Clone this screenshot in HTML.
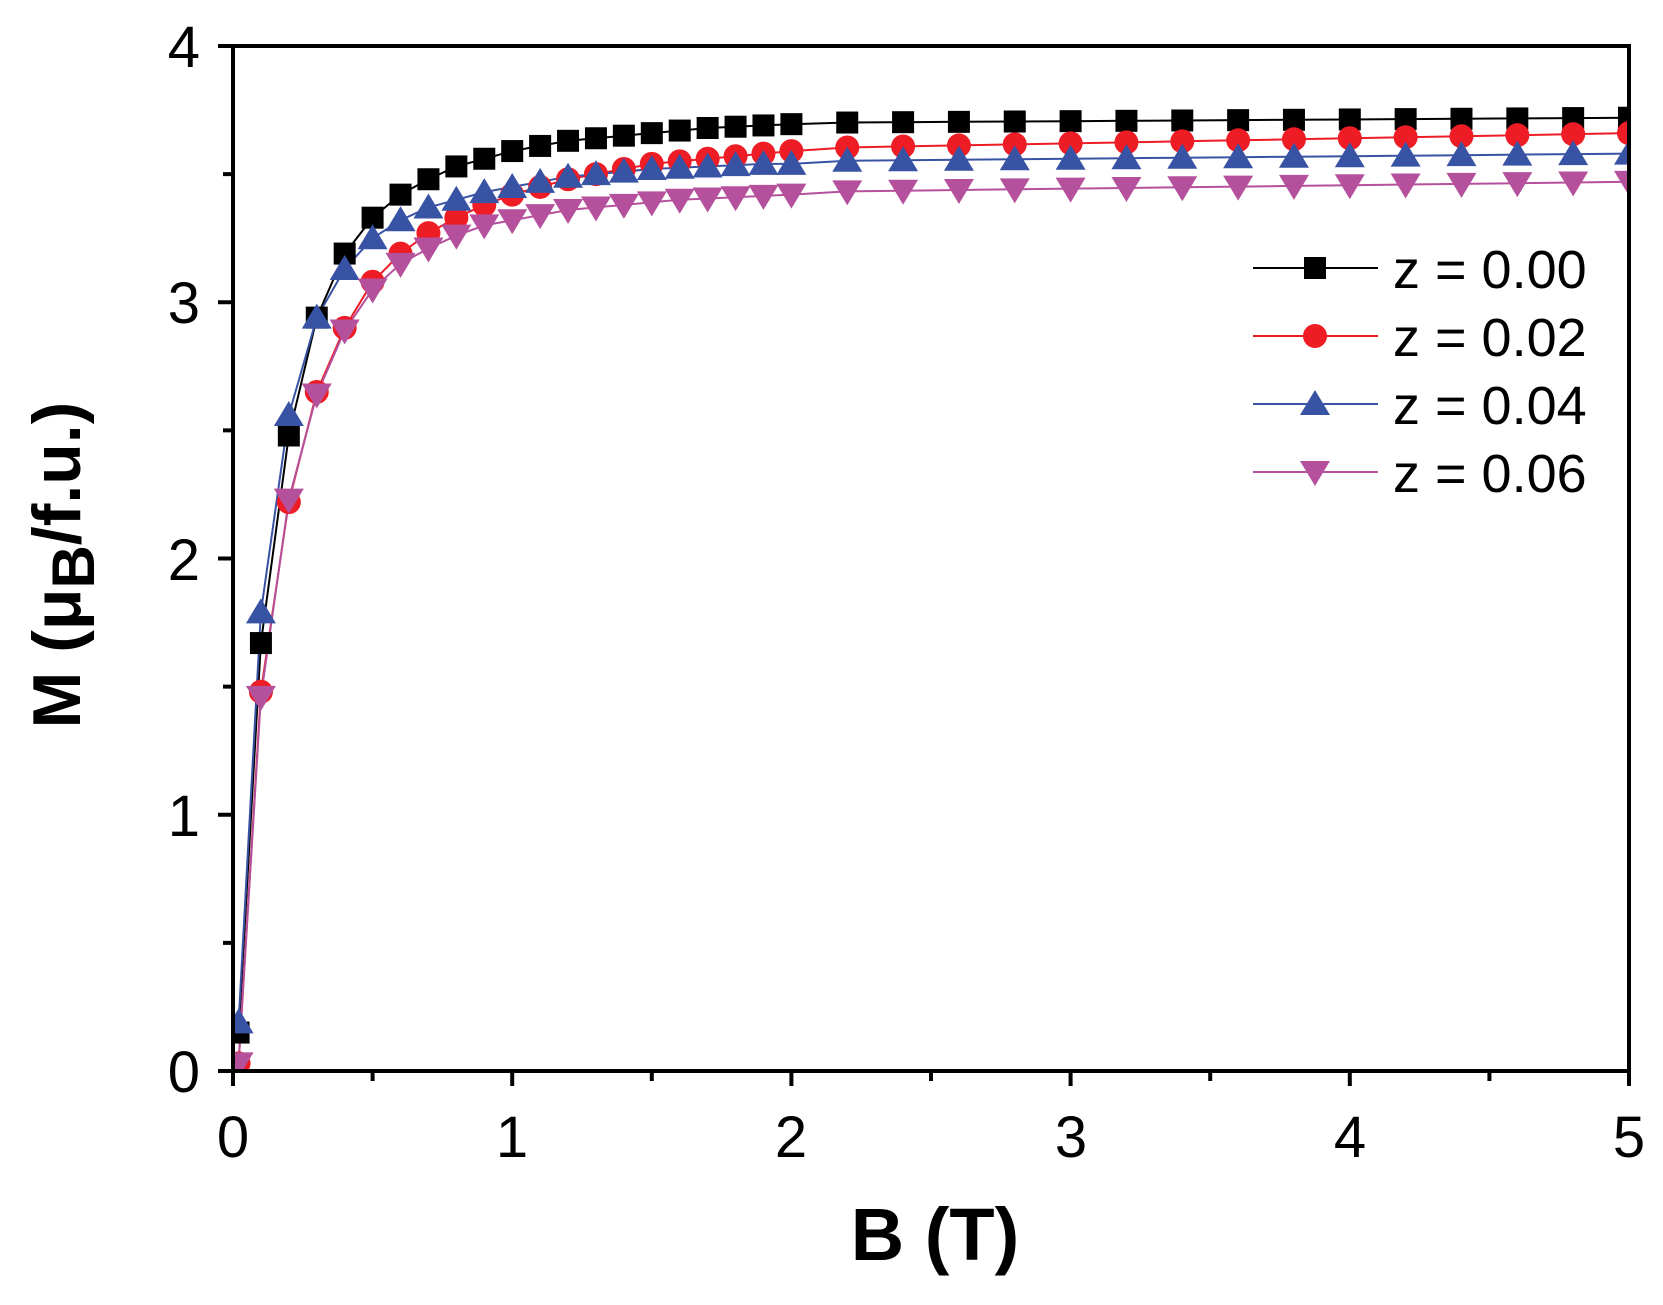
<!DOCTYPE html>
<html><head><meta charset="utf-8"><style>body{margin:0;background:#fff}svg{display:block}</style></head>
<body>
<svg id="s" width="1663" height="1305" xmlns="http://www.w3.org/2000/svg" font-family="Liberation Sans, Arial, sans-serif">
<rect width="1663" height="1305" fill="#fff"/>
<g id="plot"></g>
<rect x="233" y="46" width="1396" height="1025" fill="none" stroke="#000" stroke-width="4"/>
<g id="ticks" stroke="#000" stroke-width="4"></g>
<g font-size="58" text-anchor="middle" fill="#000">
<text x="233" y="1157">0</text><text x="512" y="1157">1</text><text x="791" y="1157">2</text><text x="1071" y="1157">3</text><text x="1350" y="1157">4</text><text x="1629" y="1157">5</text>
</g>
<g font-size="58" text-anchor="end" fill="#000">
<text x="200" y="1092">0</text><text x="200" y="836">1</text><text x="200" y="580">2</text><text x="200" y="323">3</text><text x="200" y="67">4</text>
</g>
<text x="935" y="1260" font-size="74" font-weight="bold" text-anchor="middle">B (T)</text>
<text transform="translate(80,565) rotate(-90)" font-size="68" font-weight="bold" text-anchor="middle">M (μ<tspan font-size="60" dy="14">B</tspan><tspan dy="-14">/f.u.)</tspan></text>
<g id="leg"></g>
<g font-size="54" fill="#000">
<text x="1393" y="288">z = 0.00</text><text x="1393" y="356">z = 0.02</text><text x="1393" y="424">z = 0.04</text><text x="1393" y="492">z = 0.06</text>
</g>
</svg>
<script>
var X=function(v){return 233+v*279.2},Y=function(v){return 1071-v*256.25};
var xs=[0.02];for(var i=1;i<=20;i++)xs.push(i/10);for(var i=22;i<=48;i+=2)xs.push(i/10);xs.push(5);
function tail(a,start,end){var r=a.slice();var n=xs.length-r.length;for(var k=0;k<n;k++)r.push(start+(end-start)*(k+1)/n);return r;}
var S=[
{c:"#000",m:"sq",d:tail([0.15,1.67,2.48,2.94,3.19,3.33,3.42,3.48,3.53,3.56,3.59,3.61,3.63,3.64,3.65,3.66,3.67,3.68,3.685,3.69,3.695],3.70,3.72)},
{c:"#ee1c25",m:"ci",d:tail([0.03,1.48,2.22,2.65,2.90,3.08,3.19,3.27,3.33,3.38,3.42,3.45,3.48,3.50,3.52,3.54,3.55,3.56,3.57,3.58,3.59],3.60,3.66)},
{c:"#3953a4",m:"up",d:tail([0.19,1.79,2.56,2.94,3.13,3.25,3.32,3.37,3.40,3.43,3.45,3.47,3.49,3.50,3.51,3.52,3.525,3.53,3.535,3.54,3.54],3.55,3.58)},
{c:"#b5519c",m:"dn",d:tail([0.03,1.46,2.23,2.64,2.89,3.05,3.15,3.21,3.26,3.30,3.32,3.34,3.36,3.37,3.38,3.39,3.40,3.405,3.41,3.415,3.42],3.43,3.47)}];
function mk(m,x,y,c){var r=11;
 if(m=="sq")return '<rect x="'+(x-r)+'" y="'+(y-r)+'" width="'+2*r+'" height="'+2*r+'" fill="'+c+'"/>';
 if(m=="ci")return '<circle cx="'+x+'" cy="'+y+'" r="'+(r+1)+'" fill="'+c+'"/>';
 if(m=="up")return '<polygon points="'+x+','+(y-14)+' '+(x-15)+','+(y+11)+' '+(x+15)+','+(y+11)+'" fill="'+c+'"/>';
 return '<polygon points="'+x+','+(y+14)+' '+(x-15)+','+(y-11)+' '+(x+15)+','+(y-11)+'" fill="'+c+'"/>';}
var h='<clipPath id="cp"><rect x="233" y="46" width="1396" height="1025"/></clipPath><g clip-path="url(#cp)">';
S.forEach(function(s){var p=xs.map(function(x,i){return X(x).toFixed(1)+','+Y(s.d[i]).toFixed(1)}).join(' ');
 h+='<polyline points="'+p+'" fill="none" stroke="'+s.c+'" stroke-width="2"/>';});
S.forEach(function(s){xs.forEach(function(x,i){h+=mk(s.m,X(x),Y(s.d[i]),s.c)})});
h+='</g>';document.getElementById('plot').innerHTML=h;
var t='';for(var v=0;v<=10;v++){var x=X(v/2);t+='<line x1="'+x+'" y1="1071" x2="'+x+'" y2="'+(1071+(v%2?10:15))+'"/>';var y=Y(v*0.4);}
for(var v=0;v<=8;v++){var y=Y(v/2);t+='<line x1="233" y1="'+y+'" x2="'+(233-(v%2?10:15))+'" y2="'+y+'"/>';}
document.getElementById('ticks').innerHTML=t;
var l='';S.forEach(function(s,i){var y=268+68*i;l+='<line x1="1253" y1="'+y+'" x2="1378" y2="'+y+'" stroke="'+s.c+'" stroke-width="2"/>'+mk(s.m,1315,y,s.c);});
document.getElementById('leg').innerHTML=l;
</script>
</body></html>
